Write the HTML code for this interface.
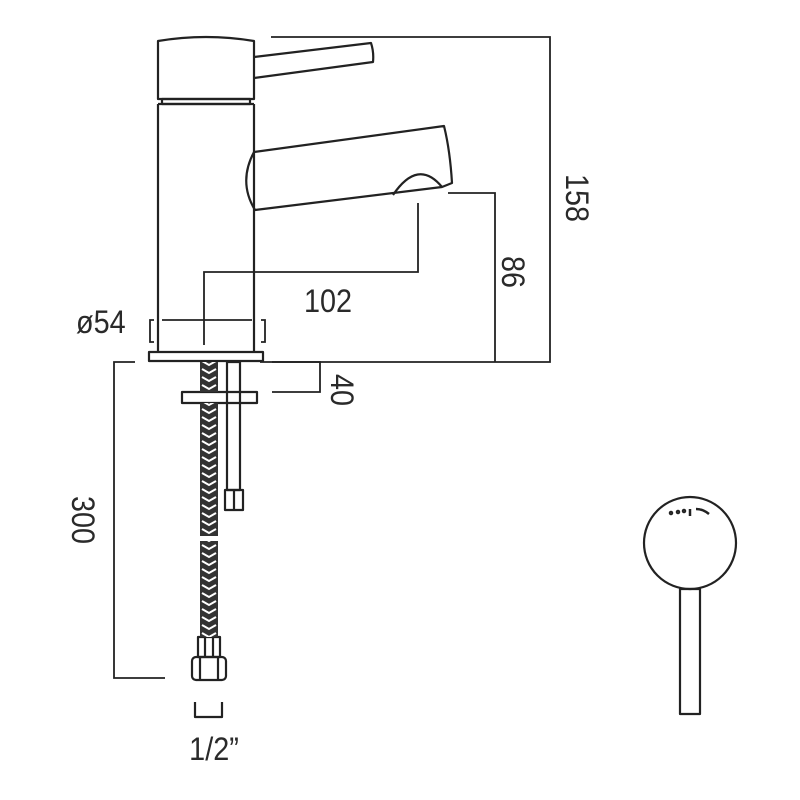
<!DOCTYPE html>
<html><head><style>html,body{margin:0;padding:0;background:#fff}svg{display:block}</style></head>
<body>
<svg width="800" height="800" viewBox="0 0 800 800" xmlns="http://www.w3.org/2000/svg">
<defs>
<pattern id="br" x="200" y="0" width="18" height="8" patternUnits="userSpaceOnUse">
<rect width="18" height="8" fill="#333"/>
<path d="M2,1 L9,5 L16,1" stroke="#fff" stroke-width="2" fill="none"/>
</pattern>
</defs>
<g fill="none" stroke="#222" stroke-width="2.2" stroke-linejoin="round">
<path d="M158,41 Q206,33 254,41 L254,99 L158,99 Z"/>
<rect x="162" y="99" width="88" height="5"/>
<path d="M254,57 L371,43 Q374,52 373,62 L254,78"/>
<path d="M254,104 L254,352 M158,104 L254,104 M158,104 L158,352"/>
<path d="M254,152 L444,126 Q450,150 452,183 L442,187 L255,210 Q238,182 254,152 Z"/>
<path d="M393,195 Q418,158 442,187"/>
<rect x="149" y="352" width="114" height="9"/>
<rect x="182" y="392" width="75" height="11"/>
<rect x="227" y="362" width="13" height="128"/>
<rect x="225" y="490" width="18" height="20"/>
<line x1="234" y1="490" x2="234" y2="510"/>
<rect x="198" y="637" width="22" height="20"/>
<line x1="205" y1="637" x2="205" y2="657"/><line x1="213" y1="637" x2="213" y2="657"/>
<rect x="192" y="657" width="34" height="23" rx="4"/>
<line x1="200" y1="657" x2="200" y2="680"/><line x1="218" y1="657" x2="218" y2="680"/>
<path d="M195,702 L195,717 L222,717 L222,702"/>
<circle cx="690" cy="543" r="46"/>
<rect x="680" y="589" width="20" height="125"/>
</g>
<rect x="200" y="362" width="18" height="30" fill="url(#br)"/>
<rect x="200" y="403" width="18" height="133" fill="url(#br)"/>
<rect x="200" y="541" width="18" height="96" fill="url(#br)"/>
<g stroke="#222" stroke-width="2.5" fill="none">
<circle cx="671" cy="513" r="1"/><circle cx="678" cy="512" r="1"/><circle cx="684" cy="511" r="1"/>
<line x1="690" y1="509" x2="690" y2="516"/>
<path d="M696,509 Q703,509 709,514"/>
</g>
<g stroke="#222" stroke-width="1.8" fill="none">
<path d="M271,37 L550,37 L550,362 L260,362"/>
<path d="M448,193 L495,193 L495,362"/>
<path d="M418,203 L418,272 L204,272 L204,345"/>
<path d="M162,320 L252,320"/>
<path d="M154,342 L150,342 L150,320 L154,320"/>
<path d="M261,342 L265,342 L265,320 L261,320"/>
<path d="M272,362 L320,362 L320,392 L272,392"/>
<path d="M135,362 L114,362 L114,678 L165,678"/>
</g>
<g font-family="Liberation Sans, sans-serif" font-size="32" fill="#2a2a2a">
<text x="328" y="312" text-anchor="middle" transform="translate(328,0) scale(0.9,1) translate(-328,0)">102</text>
<text x="76" y="333" transform="translate(76,0) scale(0.9,1) translate(-76,0)">ø54</text>
<text transform="translate(566,198) rotate(90) scale(0.9,1)" text-anchor="middle">158</text>
<text transform="translate(502,272) rotate(90) scale(0.9,1)" text-anchor="middle">86</text>
<text transform="translate(331,390) rotate(90) scale(0.9,1)" text-anchor="middle">40</text>
<text transform="translate(72,520) rotate(90) scale(0.9,1)" text-anchor="middle">300</text>
<text x="214" y="760" text-anchor="middle" transform="translate(214,0) scale(0.9,1) translate(-214,0)">1/2”</text>
</g>
</svg>
</body></html>
